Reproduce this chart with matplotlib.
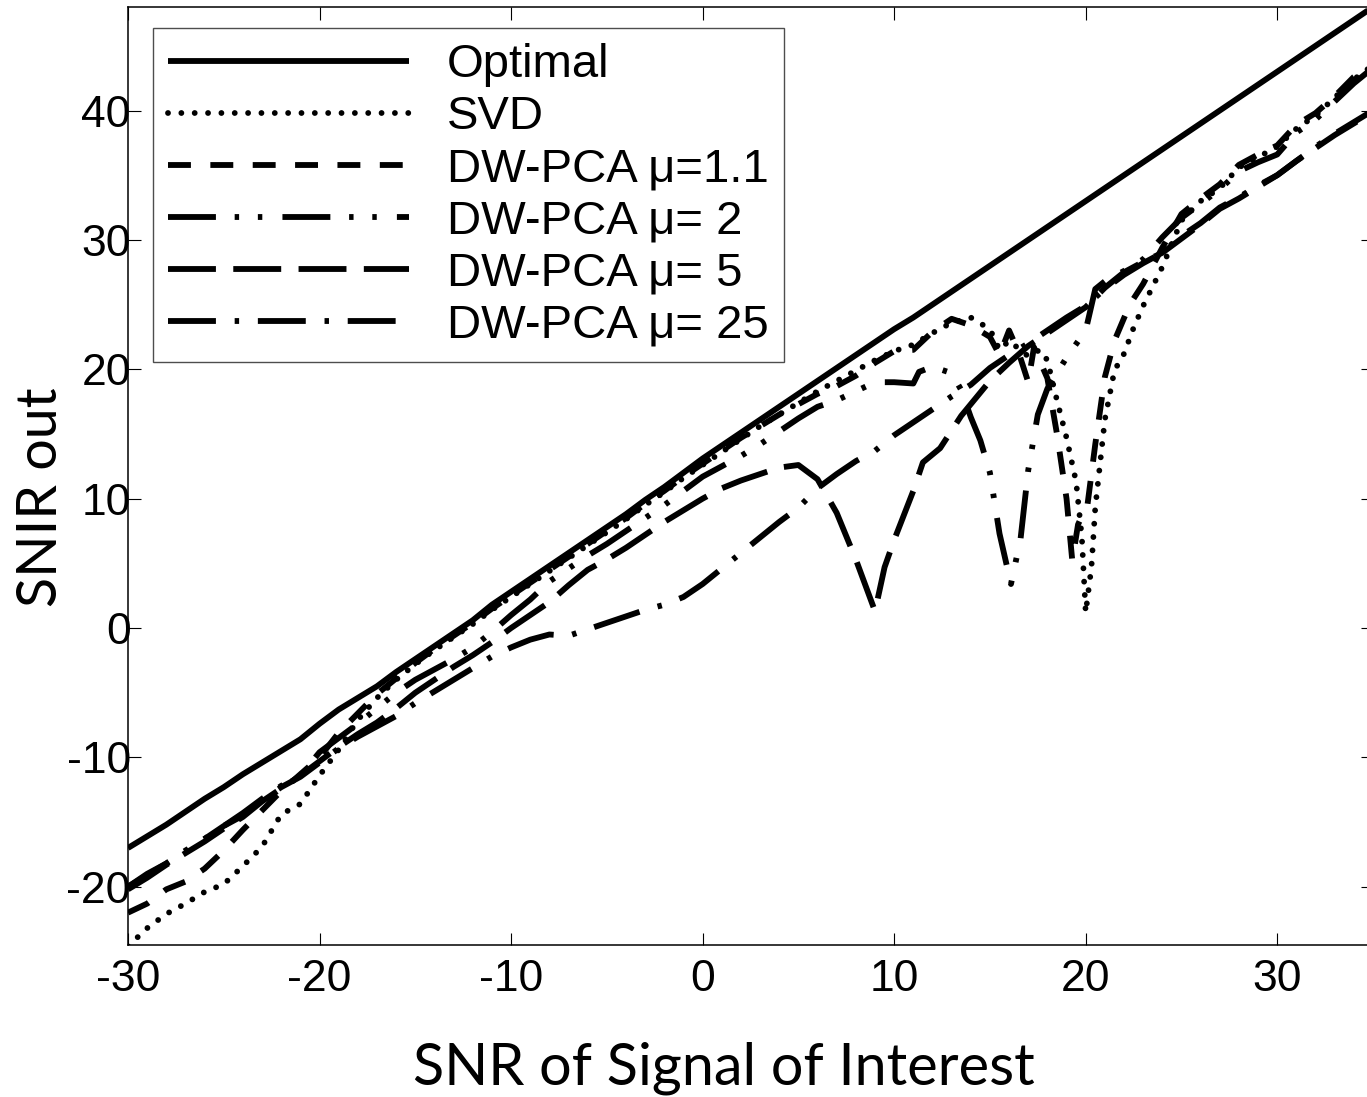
import matplotlib
matplotlib.use("Agg")
import matplotlib.pyplot as plt

plt.rcParams['lines.scale_dashes'] = False

# ---------------- data ----------------
snr_opt = list(range(-30, 36))
optimal = [-17.0, -16.1, -15.2, -14.2, -13.2, -12.3, -11.3, -10.4, -9.5, -8.6,
           -7.4, -6.3, -5.4, -4.5, -3.4, -2.4, -1.4, -0.4, 0.6, 1.8,
           2.8, 3.8, 4.8, 5.8, 6.8, 7.8, 8.8, 9.9, 10.9, 12.0,
           13.1, 14.1, 15.1, 16.1, 17.1, 18.1, 19.1, 20.1, 21.1, 22.1,
           23.1, 24.0, 25.0, 26.0, 27.0, 28.0, 29.0, 30.0, 31.0, 32.0,
           33.0, 34.0, 35.0, 36.0, 37.0, 38.0, 39.0, 40.0, 41.0, 42.0,
           43.0, 44.0, 45.0, 46.0, 47.0, 48.0]

snr_svd = list(range(-30, 15)) + [15, 15.5, 16, 17, 17.6, 18, 18.5, 19, 19.5, 19.8,
                                  20, 20.3, 20.5, 21, 21.5, 22, 22.5, 23] + list(range(24, 36))
svd = [-24.6, -23.2, -22.1, -21.3, -20.4, -19.8, -18.4, -16.9, -14.4, -13.6,
       -11.4, -9.4, -7.1, -5.4, -4.0, -2.8, -1.7, -0.7, 0.3, 1.4,
       2.4, 3.4, 4.4, 5.4, 6.4, 7.4, 8.4, 9.5, 10.5, 11.6,
       12.6, 13.6, 14.6, 15.6, 16.5, 17.4, 18.3, 19.1, 19.9, 20.7,
       21.4, 21.9, 22.8, 23.6, 24.0,
       23.1, 21.5, 22.2, 21.0, 21.5, 20.7, 17.6, 14.7, 11.3, 7.0,
       1.2, 4.7, 9.3, 16.1, 19.9, 21.2, 23.2, 24.9,
       27.9, 31.5, 33.0, 34.0, 35.6, 36.4, 37.2, 38.6, 39.6, 41.0, 42.4, 43.5]

snr_mu11 = list(range(-30, 15)) + [15, 15.5, 16, 16.5, 17, 17.3, 18, 18.5, 19, 19.3,
                                   19.6, 20.1, 20.5, 21, 21.5, 22.3, 23] + list(range(24, 36))
mu11 = [-22.0, -21.3, -20.2, -19.6, -18.6, -17.2, -15.6, -14.1, -12.6, -11.3,
        -10.0, -8.1, -6.6, -5.1, -3.9, -2.7, -1.6, -0.6, 0.4, 1.5,
        2.5, 3.5, 4.5, 5.5, 6.5, 7.5, 8.5, 9.6, 10.6, 11.7,
        12.7, 13.7, 14.7, 15.6, 16.5, 17.3, 18.1, 18.7, 19.5, 20.5,
        21.4, 21.5, 22.9, 23.9, 23.4,
        22.5, 21.1, 23.0, 21.3, 19.0, 21.7, 19.3, 15.0, 10.0, 5.2,
        8.0, 9.6, 14.2, 19.4, 22.2, 25.0, 26.6,
        29.4, 32.0, 33.2, 34.3, 35.8, 36.6, 37.3, 38.9, 39.8, 41.1, 42.6, 43.7]

snr_mu2 = list(range(-30, 12)) + [11.3, 12, 13, 13.5, 14, 14.5, 15, 15.5, 16.1, 16.6,
                                  17, 17.5, 18, 19, 20, 20.5, 21, 22, 23] + list(range(24, 36))
mu2 = [-20.0, -19.0, -18.2, -17.3, -16.3, -15.3, -14.3, -13.2, -12.2, -11.4,
       -9.6, -8.5, -7.4, -6.2, -5.0, -4.0, -3.2, -2.4, -1.5, -0.3,
       1.0, 2.2, 3.6, 4.6, 5.6, 6.5, 7.5, 8.5, 9.5, 10.6,
       11.7, 12.5, 13.3, 14.2, 15.2, 16.2, 17.1, 17.6, 18.3, 19.0,
       19.0, 18.9,
       19.8, 20.2, 19.7, 18.4, 16.3, 14.5, 12.0, 7.3, 3.4, 6.9,
       12.2, 16.5, 18.5, 20.9, 23.0, 26.2, 26.8, 27.6, 28.5,
       30.2, 31.7, 32.8, 33.9, 35.3, 36.0, 36.6, 38.3, 39.3, 40.7, 42.1, 43.3]

snr_mu5 = list(range(-30, 10)) + [9.5, 10, 11, 11.5, 12.4, 13.5, 15] + list(range(16, 36))
mu5 = [-20.2, -19.3, -18.3, -17.4, -16.5, -15.5, -14.6, -13.4, -12.4, -11.4,
       -10.3, -9.2, -8.2, -7.3, -6.2, -5.0, -4.0, -3.0, -2.1, -1.1,
       0.0, 1.0, 2.0, 3.3, 4.5, 5.3, 6.2, 7.2, 8.2, 9.1,
       10.0, 10.8, 11.4, 11.9, 12.4, 12.6, 11.5, 8.9, 5.3, 1.3,
       4.7, 6.8, 10.6, 12.8, 13.9, 16.4, 19.1,
       20.5, 21.8, 22.8, 23.8, 24.8, 26.3, 27.5, 28.3, 29.0, 30.1,
       31.2, 32.4, 33.2, 34.1, 35.0, 36.1, 37.1, 38.1, 39.0, 39.9]

snr_mu25 = list(range(-30, 36))
mu25 = [-20.0, -19.1, -18.2, -17.2, -16.3, -15.3, -14.5, -13.3, -12.3, -11.5,
        -10.4, -9.3, -8.4, -7.6, -6.8, -5.8, -4.9, -4.0, -3.1, -2.2,
        -1.5, -0.9, -0.5, -0.6, -0.1, 0.4, 0.9, 1.4, 1.8, 2.4,
        3.4, 4.6, 5.8, 7.0, 8.2, 9.3, 10.8, 11.9, 12.9, 13.7,
        14.9, 15.9, 16.9, 17.9, 18.8, 20.1, 21.1, 22.0, 23.0, 24.0,
        24.9, 26.2, 27.3, 28.2, 29.0, 30.3, 31.3, 32.5, 33.3, 34.2,
        35.0, 36.1, 37.2, 38.2, 39.1, 40.0]

labels = ["Optimal", "SVD", "DW-PCA \u03bc=1.1", "DW-PCA \u03bc= 2",
          "DW-PCA \u03bc= 5", "DW-PCA \u03bc= 25"]
xticks = [-30, -20, -10, 0, 10, 20, 30]
yticks = [-20, -10, 0, 10, 20, 30, 40]

# ---------------- figure ----------------
W, H = 1367, 1097
fig = plt.figure(figsize=(W / 100, H / 100), dpi=100)
L, R, B, T = 128, 1373, 945, 7
ax = fig.add_axes([L / W, 1 - B / H, (R - L) / W, (B - T) / H])

lw = 4.2
ax.plot(snr_opt, optimal, color='black', lw=lw, linestyle='-', label=labels[0],
        solid_capstyle='butt')
ax.plot(snr_svd, svd, color='black', lw=lw, dashes=(0.01, 9.6),
        dash_capstyle='round', label=labels[1])
ax.plot(snr_mu11, mu11, color='black', lw=lw, dashes=(16.5, 14.0),
        dash_capstyle='butt', label=labels[2])
ax.plot(snr_mu2, mu2, color='black', lw=lw, dashes=(34.5, 13.5, 3.2, 13.5, 3.2, 14.5),
        dash_capstyle='butt', label=labels[3])
ax.plot(snr_mu5, mu5, color='black', lw=lw, dashes=(34.5, 12.5),
        dash_capstyle='butt', label=labels[4])
ax.plot(snr_mu25, mu25, color='black', lw=lw, dashes=(34.5, 13.5, 3.2, 13.5),
        dash_capstyle='butt', label=labels[5])

ax.set_xlim(-30, 35)
ax.set_ylim(-24.5, 48)
ax.set_xticks(xticks)
ax.set_yticks(yticks)
tick_font = {'family': 'Liberation Sans', 'size': 32}
ax.set_xticklabels([str(v) for v in xticks], fontdict=tick_font)
ax.set_yticklabels([str(v) for v in yticks], fontdict=tick_font)
ax.tick_params(direction='in', length=9, width=0.8, top=True, right=True,
               color='black')
ax.tick_params(axis='x', pad=10)
ax.tick_params(axis='y', pad=-2)
for s in ax.spines.values():
    s.set_linewidth(1.1)
    s.set_color('black')

ax.set_xlabel("SNR of Signal of Interest", fontfamily='Lato', fontsize=41.5,
              va='center', ha='center')
ax.xaxis.set_label_coords((724 - L) / (R - L), (B - 1068) / (B - T))
ax.set_ylabel("SNIR out", fontfamily='Lato', fontsize=40, va='center', ha='center')
ax.yaxis.set_label_coords((42 - L) / (R - L), (B - 497) / (B - T))

leg = ax.legend(loc='upper left', bbox_to_anchor=((153 - L) / (R - L), (B - 28) / (B - T)),
                borderaxespad=0, frameon=True, fancybox=False, shadow=False,
                prop={'family': 'Liberation Sans', 'size': 34},
                handlelength=5.1, handletextpad=0.8, borderpad=0.32,
                labelspacing=0.17)
fr = leg.get_frame()
fr.set_edgecolor('0.3')
fr.set_linewidth(1.0)
fr.set_alpha(1)

fig.savefig("out.png", dpi=100)
